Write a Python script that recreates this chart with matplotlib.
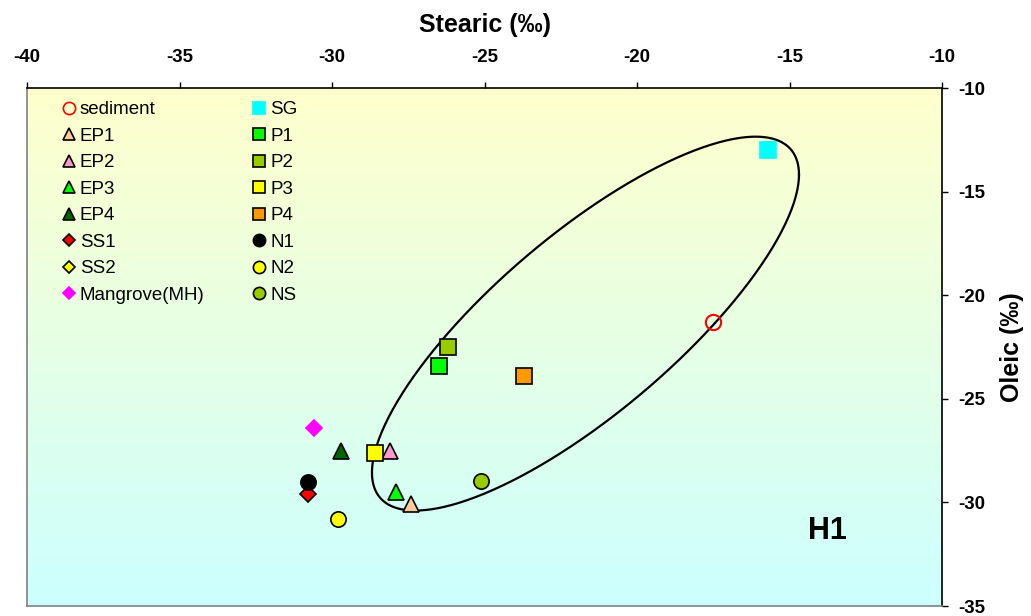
import numpy as np
import matplotlib
matplotlib.use("Agg")
import matplotlib.pyplot as plt
from matplotlib.lines import Line2D

plt.rcParams['font.family'] = ['Liberation Sans', 'DejaVu Sans']
plt.rcParams['axes.unicode_minus'] = False

# sample name, marker, face colour, edge colour, stearic x, oleic y
names = ["sediment", "EP1", "EP2", "EP3", "EP4", "SS1", "SS2", "Mangrove(MH)",
         "SG", "P1", "P2", "P3", "P4", "N1", "N2", "NS"]
markers = ["o", "^", "^", "^", "^", "D", "D", "D",
           "s", "s", "s", "s", "s", "o", "o", "o"]
faces = ["none", "#FFCC99", "#FF99CC", "#00FF00", "#006600", "#FF0000", "#FFFF00", "#FF00FF",
         "#00FFFF", "#00FF00", "#99CC00", "#FFFF00", "#FF9900", "#000000", "#FFFF00", "#99CC00"]
edges = ["#FF0000", "#000000", "#000000", "#000000", "#000000", "#000000", "#000000", "#FF00FF",
         "#00FFFF", "#000000", "#000000", "#000000", "#000000", "#000000", "#000000", "#000000"]
stearic = [[-17.5], [-27.4], [-28.1], [-27.9], [-29.7], [-30.8], [], [-30.6],
           [-15.7], [-26.5], [-26.2], [-28.6], [-23.7], [-30.8], [-29.8], [-25.1]]
oleic = [[-21.3], [-30.1], [-27.5], [-29.5], [-27.5], [-29.6], [], [-26.4],
         [-13.0], [-23.4], [-22.5], [-27.6], [-23.9], [-29.0], [-30.8], [-28.95]]

# group ellipse (centre and two half-axis vectors in data units)
ell_c = (-21.69, -21.37)
ell_u = (7.0, 7.19)
ell_v = (0.0, 5.45)

fig = plt.figure(figsize=(10.31, 6.16), dpi=100)
ax = fig.add_axes([0.0262, 0.0162, 0.8875, 0.8409])

xmin, xmax, ymin, ymax = -40, -10, -35, -10

# background gradient yellow -> cyan
grad = np.linspace(0, 1, 256).reshape(-1, 1)
top = np.array([1.0, 1.0, 0.8])
bot = np.array([0.8, 1.0, 1.0])
img = top[None, None, :] * (1 - grad[:, :, None]) + bot[None, None, :] * grad[:, :, None]
ax.imshow(img, extent=[xmin, xmax, ymin, ymax], aspect='auto', zorder=0, origin='upper')

t = np.linspace(0, 2 * np.pi, 400)
ex = ell_c[0] + ell_u[0] * np.cos(t) + ell_v[0] * np.sin(t)
ey = ell_c[1] + ell_u[1] * np.cos(t) + ell_v[1] * np.sin(t)
ax.plot(ex, ey, color='black', lw=1.6, zorder=2)

handles = []
for i in range(len(names)):
    ms = 11
    if markers[i] == "D":
        ms = 8
    ax.plot(stearic[i], oleic[i], linestyle='none', marker=markers[i], markersize=ms,
            markerfacecolor=faces[i], markeredgecolor=edges[i],
            markeredgewidth=1.5 if names[i] == "sediment" else 1.2, zorder=3)
    handles.append(Line2D([], [], linestyle='none', marker=markers[i],
                          markersize=ms * 0.8, markerfacecolor=faces[i],
                          markeredgecolor=edges[i], markeredgewidth=1.2,
                          label=names[i]))

ax.legend(handles=handles, ncol=2, loc='upper left', frameon=False,
          fontsize=13.5, handlelength=0.6, handletextpad=0.3,
          columnspacing=2.6, labelspacing=0.5, borderaxespad=0.3,
          bbox_to_anchor=(0.025, 1.0))

ax.text(-13.75, -31.4, "H1", fontsize=22, fontweight='bold', ha='center', va='center')

ax.set_xlim(xmin, xmax)
ax.set_ylim(ymin, ymax)
ax.set_xticks(np.arange(-40, -9, 5))
ax.set_yticks(np.arange(-35, -9, 5))
ax.xaxis.tick_top()
ax.yaxis.tick_right()
ax.xaxis.set_label_position('top')
ax.yaxis.set_label_position('right')
ax.tick_params(direction='out', length=4.5, width=1, labelsize=13.5, color='black')
ax.tick_params(axis='x', pad=11.5)
ax.tick_params(axis='y', pad=7)
for lab in ax.get_xticklabels() + ax.get_yticklabels():
    lab.set_fontweight('bold')
ax.set_xlabel("Stearic (‰)", fontsize=18, fontweight='bold', labelpad=12)
ax.set_ylabel("Oleic (‰)", fontsize=18, fontweight='bold', labelpad=11)

ax.spines['top'].set_color('black')
ax.spines['right'].set_color('black')
ax.spines['left'].set_color('#808080')
ax.spines['bottom'].set_color('#808080')
for s in ax.spines.values():
    s.set_linewidth(1.2)

fig.savefig("out.png", dpi=100)
